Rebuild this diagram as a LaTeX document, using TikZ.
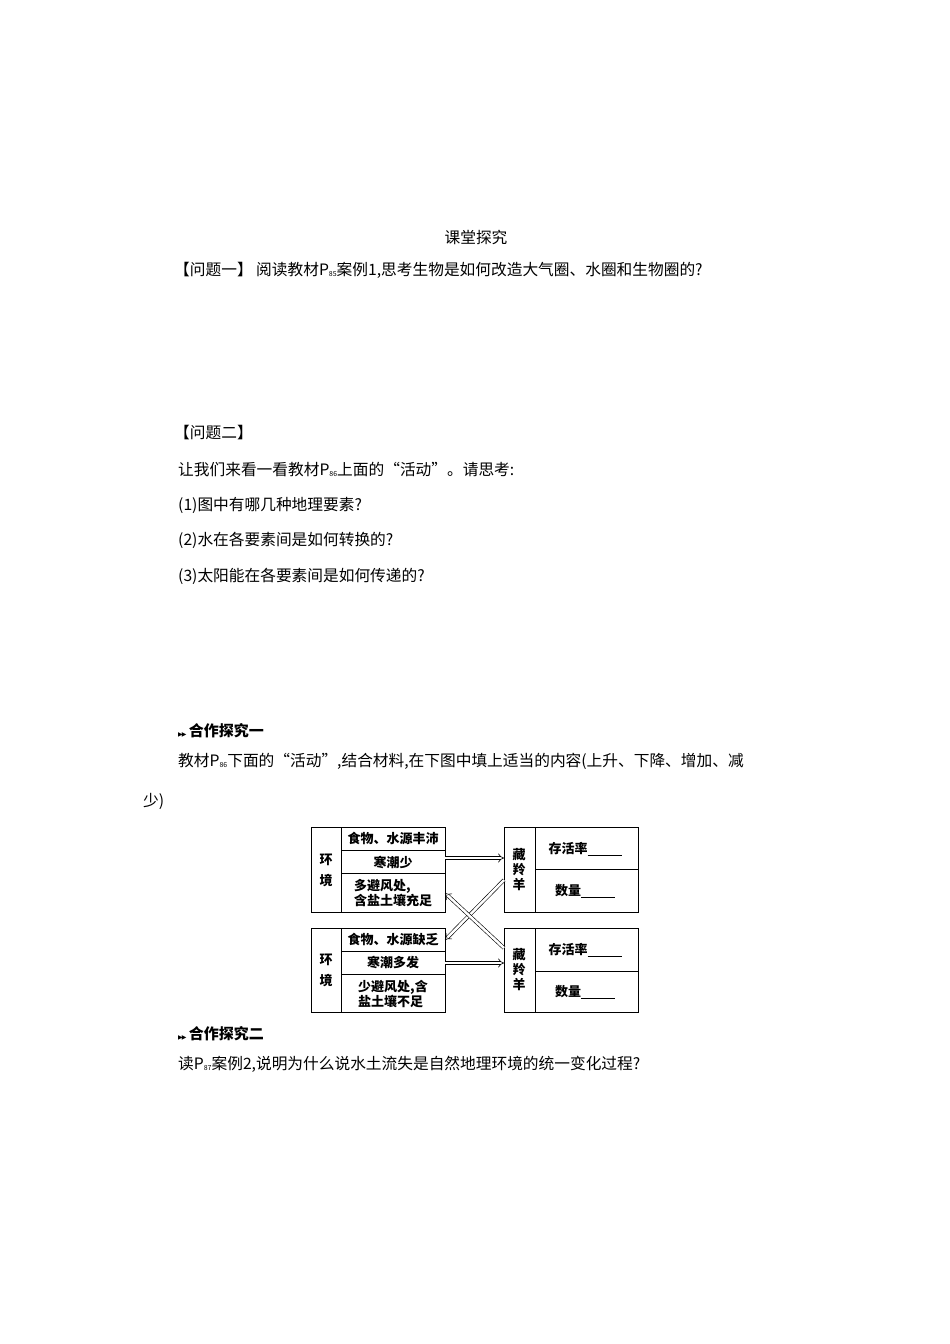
\documentclass[tikz,border=0pt]{standalone}
\usepackage{fontspec}
\setmainfont{Noto Sans CJK SC}
\newfontfamily\dv{DejaVu Sans}
\usetikzlibrary{arrows.meta}
\begin{document}
\begin{tikzpicture}[x=1pt,y=-1pt,
  txt/.style={anchor=west,inner sep=0pt,font=\fontsize{15.7}{17}\selectfont},
  cell/.style={draw,line width=1pt},
  dtxt/.style={font=\fontsize{13}{15}\selectfont\bfseries,align=left,inner sep=0pt},
  darr/.style={double,double distance=2.5pt,line width=0.6pt,-{Implies[length=9pt,width=12pt]}}]
\useasboundingbox[fill=white] (0,0) rectangle (950,1344);
\node[txt,anchor=center] (t0) at (476,237) {课堂探究};
\node[txt] (t1) at (174,270) {【问题一】 阅读教材P\raisebox{-1pt}{\scriptsize 85}案例1,思考生物是如何改造大气圈、水圈和生物圈的?};
\node[txt] (t2) at (174,433) {【问题二】};
\node[txt] (t3) at (178,469) {让我们来看一看教材P\raisebox{-1pt}{\scriptsize 86}上面的“活动”。请思考:};
\node[txt] (t4) at (178,505) {(1)图中有哪几种地理要素?};
\node[txt] (t5) at (178,540) {(2)水在各要素间是如何转换的?};
\node[txt] (t6) at (178,576) {(3)太阳能在各要素间是如何传递的?};
\node[txt,font=\fontsize{15}{16}\selectfont\bfseries] (h1) at (178,731) {{\dv\fontsize{6}{6}\selectfont ▶\kern-1pt▶}\,合作探究一};
\node[txt] (t7) at (178,761) {教材P\raisebox{-1pt}{\scriptsize 86}下面的“活动”,结合材料,在下图中填上适当的内容(上升、下降、增加、减};
\node[txt] (t8) at (143,801) {少)};
% top left
\draw[cell] (311,827) rectangle (445,912); \draw[cell] (341,827)--(341,912);
\draw[cell] (341,850)--(445,850); \draw[cell] (341,873)--(445,873);
\node[dtxt] (a0) at (326,870) {环\\[6pt]境};
\node[dtxt] (a1) at (393,838) {食物、水源丰沛};
\node[dtxt] (a2) at (393,862) {寒潮少};
\node[dtxt] (a3) at (393,893) {多避风处,\\含盐土壤充足};
\draw[cell] (311,928) rectangle (445,1012); \draw[cell] (341,928)--(341,1012);
\draw[cell] (341,951)--(445,951); \draw[cell] (341,974)--(445,974);
\node[dtxt] (b0) at (326,970) {环\\[6pt]境};
\node[dtxt] (b1) at (393,940) {食物、水源缺乏};
\node[dtxt] (b2) at (393,962) {寒潮多发};
\node[dtxt] (b3) at (393,994) {少避风处,含\\盐土壤不足};
% right boxes
\draw[cell] (504,827) rectangle (638,912); \draw[cell] (535,827)--(535,912); \draw[cell] (535,869)--(638,869);
\node[dtxt] (c0) at (519,870) {藏\\羚\\羊};
\node[dtxt] (c1) at (585,849) {存活率\underline{\hspace{34pt}}};
\node[dtxt] (c2) at (585,891) {数量\underline{\hspace{34pt}}};
\draw[cell] (504,928) rectangle (638,1012); \draw[cell] (535,928)--(535,1012); \draw[cell] (535,971)--(638,971);
\node[dtxt] (d0) at (519,970) {藏\\羚\\羊};
\node[dtxt] (d1) at (585,950) {存活率\underline{\hspace{34pt}}};
\node[dtxt] (d2) at (585,992) {数量\underline{\hspace{34pt}}};
\coordinate (p1) at (445,858); \coordinate (q1) at (504,858);
\coordinate (p2) at (445,963); \coordinate (q2) at (504,963);
\coordinate (p3) at (504,880); \coordinate (q3) at (445,940);
\coordinate (p4) at (504,948); \coordinate (q4) at (445,893);
\draw[darr] (p1)--(q1); \draw[darr] (p2)--(q2);
\draw[darr] (p3)--(q3); \draw[darr] (p4)--(q4);
\node[txt,font=\fontsize{15}{16}\selectfont\bfseries] (h2) at (178,1034) {{\dv\fontsize{6}{6}\selectfont ▶\kern-1pt▶}\,合作探究二};
\node[txt] (t9) at (178,1064) {读P\raisebox{-1pt}{\scriptsize 87}案例2,说明为什么说水土流失是自然地理环境的统一变化过程?};
\end{tikzpicture}
\end{document}
